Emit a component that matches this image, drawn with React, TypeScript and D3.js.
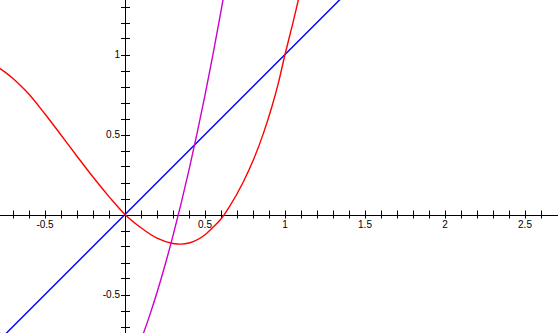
import React, { useEffect, useRef } from 'react';
import * as d3 from 'd3';

// values
const redX = [-0.8, -0.75, -0.7, -0.65, -0.6, -0.5, -0.4, -0.3, -0.2, -0.1, 0, 0.1, 0.2, 0.3, 0.35, 0.4, 0.5, 0.55, 0.6, 0.65, 0.74, 0.802, 0.865, 0.917, 0.958, 1.0, 1.04, 1.083, 1.1];
const redY = [0.925, 0.89, 0.85, 0.803, 0.752, 0.628, 0.497, 0.364, 0.234, 0.112, 0, -0.083, -0.148, -0.181, -0.185, -0.178, -0.127, -0.08, -0.028, 0.045, 0.205, 0.34, 0.507, 0.67, 0.82, 1.0, 1.16, 1.34, 1.42];

const magX = [0.1, 0.15, 0.2, 0.25, 0.3, 0.35, 0.4, 0.45, 0.5, 0.55, 0.6, 0.65];
const magY = [-0.785, -0.643, -0.487, -0.317, -0.132, 0.066, 0.279, 0.505, 0.746, 1.001, 1.271, 1.554];

// small piece of the purple curve peeking in at the lower left corner
const magLeftX = [-0.8, -0.785, -0.77];
const magLeftY = [-0.69, -0.735, -0.8];

const blueX = [-0.8, 1.4];
const blueY = [-0.8, 1.4];

const xTicks = d3.range(-7, 27).filter(v => v !== 0).map(v => v / 10);
const yTicks = d3.range(-7, 14).filter(v => v !== 0).map(v => v / 10);
const xLabels = [-0.5, 0.5, 1, 1.5, 2, 2.5];
const yLabels = [-0.5, 0.5, 1];

const W = 558;
const H = 333;

export default function App() {
  const svgRef = useRef<SVGSVGElement>(null);

  useEffect(() => {
    if (!svgRef.current) return;
    const svg = d3.select(svgRef.current);
    svg.selectAll('*').remove();

    const x = d3.scaleLinear().domain([0, 1]).range([125, 285]);
    const y = d3.scaleLinear().domain([0, 1]).range([214.5, 54.5]);

    svg.append('defs').append('clipPath').attr('id', 'plotclip')
      .append('rect').attr('x', 0).attr('y', 0).attr('width', W).attr('height', H);

    const font = 'Liberation Sans, Arial, sans-serif';

    // axes
    const ax = svg.append('g').attr('stroke', '#000').attr('stroke-width', 1);
    ax.append('line').attr('x1', 0).attr('x2', W).attr('y1', Math.round(y(0)) + 0.5).attr('y2', Math.round(y(0)) + 0.5);
    ax.append('line').attr('x1', x(0) + 0.5).attr('x2', x(0) + 0.5).attr('y1', 0).attr('y2', H);

    xTicks.forEach(t => {
      const px = Math.round(x(t)) + 0.5;
      ax.append('line').attr('x1', px).attr('x2', px).attr('y1', y(0) - 4).attr('y2', y(0) + 4);
    });
    yTicks.forEach(t => {
      const py = Math.round(y(t)) + 0.5;
      ax.append('line').attr('x1', x(0) - 4).attr('x2', x(0) + 5).attr('y1', py).attr('y2', py);
    });

    xLabels.forEach(t => {
      svg.append('text')
        .attr('x', x(t))
        .attr('y', y(0) + 13)
        .attr('text-anchor', 'middle')
        .style('font-family', font)
        .style('font-size', '10px')
        .text(String(t));
    });
    yLabels.forEach(t => {
      svg.append('text')
        .attr('x', x(0) - 5)
        .attr('y', y(t) + 3.5)
        .attr('text-anchor', 'end')
        .style('font-family', font)
        .style('font-size', '10px')
        .text(String(t));
    });

    const curve = (xs: number[], ys: number[], color: string) => {
      const pts = xs.map((v, i) => [v, ys[i]] as [number, number]);
      const line = d3.line<[number, number]>()
        .x(d => x(d[0]))
        .y(d => y(d[1]))
        .curve(d3.curveMonotoneX);
      svg.append('path')
        .attr('d', line(pts))
        .attr('fill', 'none')
        .attr('stroke', color)
        .attr('stroke-width', 1.4)
        .attr('clip-path', 'url(#plotclip)');
    };

    curve(blueX, blueY, '#0000ff');
    curve(redX, redY, '#ff0000');
    curve(magX, magY, '#cc00cc');
    curve(magLeftX, magLeftY, '#cc00cc');
  }, []);

  return (
    <svg
      ref={svgRef}
      width={W}
      height={H}
      style={{ position: 'fixed', left: 0, top: 0, background: '#fff' }}
    />
  );
}
